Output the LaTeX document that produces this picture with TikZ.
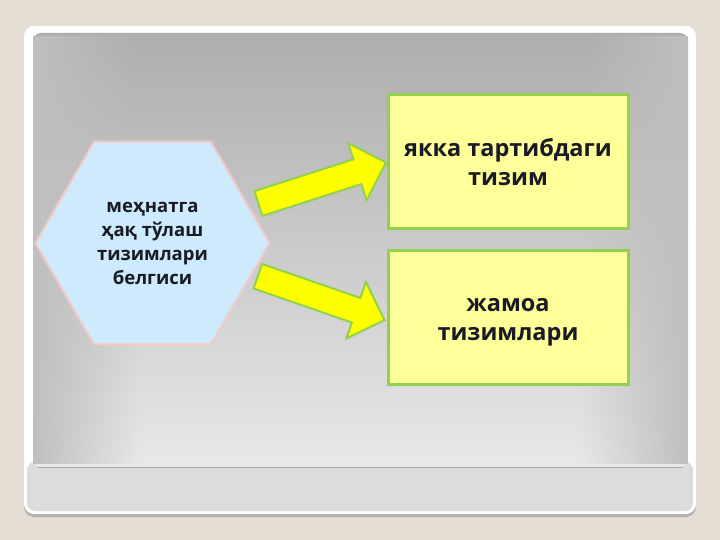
\documentclass[tikz,border=0pt]{standalone}
\usepackage{fontspec}
\setmainfont{Open Sans}
\usetikzlibrary{shapes.geometric}
\usetikzlibrary{shapes.arrows}
\usetikzlibrary{fadings}
\pgfdeclarelayer{backlayer}
\pgfdeclarelayer{nodelayer}
\pgfsetlayers{backlayer,main,nodelayer}
\definecolor{pagebg}{HTML}{E4DDD2}
\definecolor{stripgray}{HTML}{DCDCDC}
\definecolor{hexblue}{HTML}{CDEBFC}
\definecolor{hexpink}{HTML}{F4C9C9}
\definecolor{arrowyellow}{HTML}{FFFF00}
\definecolor{boxyellow}{HTML}{FFFF99}
\definecolor{leafgreen}{HTML}{92D050}
\definecolor{inktext}{HTML}{1A1A24}
\tikzstyle{hexa}=[regular polygon,regular polygon sides=6,minimum size=234pt,inner sep=0pt,fill=hexblue,draw=hexpink,line width=2pt,text=inktext,align=center,font=\bfseries\fontsize{18.5}{24}\selectfont]
\tikzstyle{kind}=[rectangle,minimum width=240pt,minimum height=134pt,fill=boxyellow,draw=leafgreen,line width=3pt,text=inktext,align=center,font=\bfseries\fontsize{23.5}{28.5}\selectfont]
\tikzstyle{blockarrow}=[single arrow,minimum height=134pt,inner xsep=0pt,inner ysep=12pt,single arrow head extend=17pt,fill=arrowyellow,draw=leafgreen,line width=2pt]

\begin{document}
\begin{tikzpicture}[x=1pt,y=-1pt]
	\begin{pgfonlayer}{backlayer}
		\fill [pagebg] (0,0) rectangle (720,540);
		\useasboundingbox (0,0) rectangle (720,540);
		\fill [black!30, rounded corners=10pt] (24,29) rectangle (696,517);
		\fill [white, rounded corners=10pt] (24,26) rectangle (696,514);
		\fill [stripgray, rounded corners=8pt] (27,462) rectangle (693,511);
		\shade [top color=black!32, bottom color=black!9, rounded corners=8pt] (33,33) rectangle (688,467);
		\fill [black!25, path fading=east] (33,36) rectangle (140,464);
		\fill [black!25, path fading=west] (580,36) rectangle (688,464);
		\draw [black!35, line width=0.8pt] (38,467.5) -- (683,467.5);
	\end{pgfonlayer}
	\begin{pgfonlayer}{nodelayer}
		\node [style=hexa] (0) at (152.5, 243) {меҳнатга\\ҳақ тўлаш\\тизимлари\\белгиси};
		\node [style=kind] (1) at (508, 162) {якка тартибдаги\\тизим};
		\node [style=kind] (2) at (508, 317.5) {\\[-6pt]жамоа\\тизимлари};
		\node [style=blockarrow, rotate=17.8] (3) at (316, 185) {};
		\node [style=blockarrow, rotate=-19.1] (4) at (315, 296) {};
	\end{pgfonlayer}
\end{tikzpicture}
\end{document}
